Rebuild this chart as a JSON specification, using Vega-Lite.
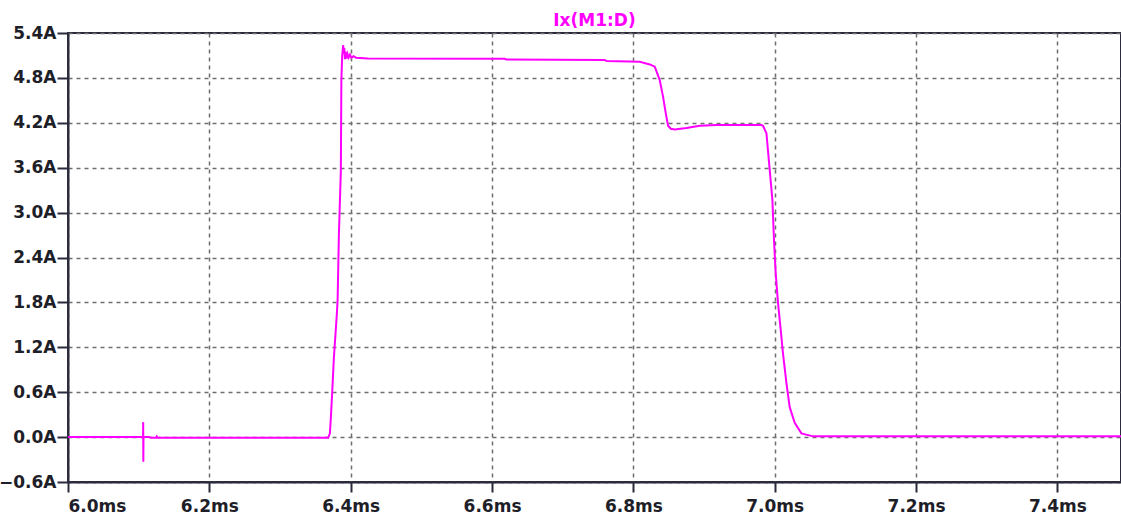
{
  "$schema": "https://vega.github.io/schema/vega-lite/v6.json",
  "autosize": {"type": "none"},
  "width": 1053,
  "height": 449,
  "padding": {"left": 68, "top": 33, "right": 0, "bottom": 38},
  "background": "#ffffff",
  "title": {"text": "Ix(M1:D)", "color": "#ff00ff", "font": "DejaVu Sans", "fontSize": 17, "fontWeight": "bold", "anchor": "middle", "offset": -6},
  "config": {
    "view": {"stroke": "#2a2a3c", "strokeWidth": 2},
    "axis": {
      "labelFont": "DejaVu Sans", "labelFontSize": 17, "labelFontWeight": "bold", "labelColor": "#1e1e28",
      "domainColor": "#2a2a3c", "domainWidth": 2, "tickColor": "#2a2a3c", "tickWidth": 2,
      "gridColor": "#6e6e6e", "gridDash": [4, 4], "gridWidth": 1.5, "gridOpacity": 1, "title": null
    }
  },
  "data": {"values": [
    {"t": 6.0, "i": 0}, {"t": 6.1062, "i": 0}, {"t": 6.1064, "i": 0.20}, {"t": 6.1066, "i": -0.33}, {"t": 6.1068, "i": 0},
    {"t": 6.115, "i": 0}, {"t": 6.118, "i": -0.01}, {"t": 6.1245, "i": -0.01}, {"t": 6.1255, "i": 0.01}, {"t": 6.127, "i": -0.01},
    {"t": 6.3682, "i": -0.01}, {"t": 6.3706, "i": 0.05}, {"t": 6.372, "i": 0.27}, {"t": 6.3738, "i": 0.59}, {"t": 6.3762, "i": 1.06},
    {"t": 6.3786, "i": 1.39}, {"t": 6.3805, "i": 1.66}, {"t": 6.3815, "i": 1.83}, {"t": 6.3833, "i": 2.70}, {"t": 6.3861, "i": 3.57},
    {"t": 6.3868, "i": 4.77}, {"t": 6.3880, "i": 5.10}, {"t": 6.3894, "i": 5.24}, {"t": 6.3902, "i": 5.12}, {"t": 6.3910, "i": 5.20},
    {"t": 6.3918, "i": 5.05}, {"t": 6.3928, "i": 5.15}, {"t": 6.3940, "i": 5.06}, {"t": 6.3955, "i": 5.12}, {"t": 6.3970, "i": 5.07},
    {"t": 6.3990, "i": 5.11}, {"t": 6.4010, "i": 5.07}, {"t": 6.4040, "i": 5.09}, {"t": 6.4075, "i": 5.07}, {"t": 6.4243, "i": 5.06},
    {"t": 6.6181, "i": 5.055}, {"t": 6.6200, "i": 5.045}, {"t": 6.7595, "i": 5.04}, {"t": 6.7620, "i": 5.025}, {"t": 6.8091, "i": 5.015},
    {"t": 6.8232, "i": 4.98}, {"t": 6.8303, "i": 4.95}, {"t": 6.8373, "i": 4.77}, {"t": 6.8420, "i": 4.55}, {"t": 6.8458, "i": 4.33},
    {"t": 6.8491, "i": 4.16}, {"t": 6.8530, "i": 4.12}, {"t": 6.8586, "i": 4.11}, {"t": 6.8751, "i": 4.13}, {"t": 6.8939, "i": 4.16}, {"t": 6.9175, "i": 4.17},
    {"t": 6.9812, "i": 4.17}, {"t": 6.9834, "i": 4.16}, {"t": 6.9883, "i": 4.06}, {"t": 6.9929, "i": 3.57}, {"t": 6.9967, "i": 3.17},
    {"t": 6.9990, "i": 2.63}, {"t": 7.0014, "i": 2.19}, {"t": 7.0047, "i": 1.79}, {"t": 7.0081, "i": 1.47}, {"t": 7.0117, "i": 1.12},
    {"t": 7.0166, "i": 0.72}, {"t": 7.0212, "i": 0.40}, {"t": 7.0283, "i": 0.19}, {"t": 7.0378, "i": 0.05}, {"t": 7.0542, "i": 0.01},
    {"t": 7.2, "i": 0.01}, {"t": 7.49, "i": 0.01}
  ]},
  "mark": {"type": "line", "color": "#ff00ff", "strokeWidth": 2, "clip": true},
  "encoding": {
    "x": {"field": "t", "type": "quantitative", "scale": {"domain": [6.0, 7.49], "nice": false, "zero": false},
      "axis": {"values": [6.0, 6.2, 6.4, 6.6, 6.8, 7.0, 7.2, 7.4], "labelExpr": "format(datum.value, '.1f') + 'ms'", "tickSize": 10, "labelPadding": 6, "grid": true}},
    "y": {"field": "i", "type": "quantitative", "scale": {"domain": [-0.6, 5.4], "nice": false, "zero": false},
      "axis": {"values": [-0.6, 0, 0.6, 1.2, 1.8, 2.4, 3.0, 3.6, 4.2, 4.8, 5.4], "labelExpr": "format(datum.value, '.1f') + 'A'", "tickSize": 11, "labelPadding": 1, "grid": true}}
  }
}
